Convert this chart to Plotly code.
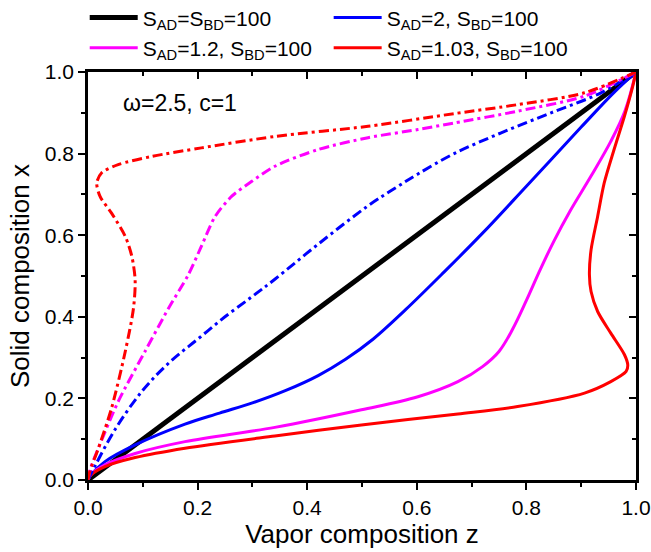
import plotly.graph_objects as go

# ---------------- data (vapor composition z, solid composition x) ----------------
ideal_z = [0.0, 1.0]
ideal_x = [0.0, 1.0]

s2_solid_z = [0.0, 0.005, 0.031, 0.086, 0.177, 0.240, 0.300, 0.360, 0.420, 0.470, 0.520, 0.580, 0.650, 0.720, 0.800, 0.900, 0.960, 1.0]
s2_solid_x = [0.0, 0.012, 0.045, 0.086, 0.137, 0.164, 0.189, 0.219, 0.256, 0.296, 0.345, 0.418, 0.510, 0.605, 0.720, 0.865, 0.950, 1.0]

s2_dd_z = [0.0, 0.013, 0.050, 0.100, 0.150, 0.200, 0.250, 0.300, 0.341, 0.420, 0.511, 0.560, 0.602, 0.668, 0.754, 0.845, 0.936, 1.0]
s2_dd_x = [0.0, 0.035, 0.125, 0.220, 0.290, 0.345, 0.400, 0.450, 0.492, 0.578, 0.672, 0.715, 0.750, 0.800, 0.851, 0.900, 0.949, 1.0]

s12_solid_z = [0.0, 0.005, 0.031, 0.086, 0.177, 0.341, 0.499, 0.602, 0.675, 0.720, 0.750, 0.775, 0.800, 0.825, 0.850, 0.880, 0.918, 0.954, 0.980, 1.0]
s12_solid_x = [0.0, 0.013, 0.037, 0.065, 0.094, 0.129, 0.172, 0.204, 0.241, 0.278, 0.315, 0.370, 0.440, 0.515, 0.585, 0.660, 0.745, 0.830, 0.905, 1.0]

s12_dd_z = [0.0, 0.005, 0.019, 0.055, 0.104, 0.147, 0.183, 0.207, 0.232, 0.262, 0.299, 0.341, 0.420, 0.511, 0.602, 0.668, 0.784, 0.906, 1.0]
s12_dd_x = [0.0, 0.030, 0.078, 0.192, 0.315, 0.421, 0.503, 0.573, 0.646, 0.695, 0.732, 0.769, 0.810, 0.839, 0.859, 0.875, 0.904, 0.941, 1.0]

s103_solid_z = [0.0, 0.005, 0.031, 0.086, 0.177, 0.341, 0.499, 0.675, 0.784, 0.906, 0.954, 0.982, 0.985, 0.979, 0.954, 0.930, 0.918, 0.915, 0.918, 0.930, 0.942, 0.960, 0.979, 0.994, 1.0]
s103_solid_x = [0.0, 0.012, 0.033, 0.055, 0.078, 0.108, 0.135, 0.162, 0.180, 0.213, 0.241, 0.266, 0.282, 0.307, 0.360, 0.413, 0.462, 0.503, 0.564, 0.646, 0.728, 0.810, 0.892, 0.965, 1.0]

s103_dd_z = [0.0, 0.003, 0.019, 0.043, 0.068, 0.083, 0.086, 0.080, 0.068, 0.043, 0.022, 0.016, 0.025, 0.055, 0.116, 0.207, 0.341, 0.511, 0.668, 0.784, 0.906, 1.0]
s103_dd_x = [0.0, 0.020, 0.078, 0.176, 0.315, 0.421, 0.490, 0.548, 0.597, 0.654, 0.695, 0.728, 0.753, 0.773, 0.793, 0.814, 0.842, 0.867, 0.898, 0.920, 0.949, 1.0]

tick_vals = [0.0, 0.2, 0.4, 0.6, 0.8, 1.0]

FONT = "Arial, Liberation Sans, sans-serif"
DASHDOT = "10px,4px,3px,4px"

fig = go.Figure()

def add(z, x, color, width, dash, name=None, legend=False, smooth=0.8):
    fig.add_trace(go.Scatter(
        x=z, y=x, mode="lines", name=name, showlegend=legend,
        line=dict(color=color, width=width, dash=dash, shape="spline", smoothing=smooth),
        hoverinfo="skip"))

add(ideal_z, ideal_x, "#000000", 5, "solid", "S<sub>AD</sub>=S<sub>BD</sub>=100", True)
add(s2_solid_z, s2_solid_x, "#0000FF", 3, "solid", "S<sub>AD</sub>=2, S<sub>BD</sub>=100", True, 1.0)
add(s12_solid_z, s12_solid_x, "#FF00FF", 3, "solid", "S<sub>AD</sub>=1.2, S<sub>BD</sub>=100", True, 1.0)
add(s103_solid_z, s103_solid_x, "#FF0000", 3, "solid", "S<sub>AD</sub>=1.03, S<sub>BD</sub>=100", True)
add(s2_dd_z, s2_dd_x, "#0000FF", 3, DASHDOT, smooth=1.0)
add(s12_dd_z, s12_dd_x, "#FF00FF", 3, DASHDOT)
add(s103_dd_z, s103_dd_x, "#FF0000", 3, DASHDOT)

# dummy trace to activate the mirrored top/right axes
fig.add_trace(go.Scatter(x=[None], y=[None], xaxis="x2", yaxis="y2", showlegend=False, hoverinfo="skip"))

axis_common = dict(range=[0, 1], tickvals=tick_vals, tickformat=".1f", showgrid=False, zeroline=False,
                   showline=True, linecolor="black", linewidth=2.5, ticklen=7, tickwidth=2,
                   tickcolor="black", tickfont=dict(family=FONT, size=21, color="black"))

fig.update_layout(
    width=651, height=552,
    margin=dict(l=88, r=15, t=72, b=72, autoexpand=False),
    paper_bgcolor="white", plot_bgcolor="white",
    font=dict(family=FONT, color="black"),
    xaxis=dict(**axis_common, ticks="outside",
               minor=dict(ticks="outside", dtick=0.1, ticklen=4, tickwidth=2, tickcolor="black"),
               title=dict(text="Vapor composition z", font=dict(family=FONT, size=26), standoff=6)),
    yaxis=dict(**axis_common, ticks="outside",
               minor=dict(ticks="outside", dtick=0.1, ticklen=4, tickwidth=2, tickcolor="black"),
               title=dict(text="Solid composition x", font=dict(family=FONT, size=26), standoff=8)),
    xaxis2=dict(range=[0, 1], overlaying="x", side="top", anchor="y", showgrid=False, zeroline=False,
                showline=True, linecolor="black", linewidth=2.5, ticks="inside", tickvals=tick_vals,
                ticklen=7, tickwidth=2, tickcolor="black", showticklabels=False,
                minor=dict(ticks="inside", dtick=0.1, ticklen=4, tickwidth=2, tickcolor="black")),
    yaxis2=dict(range=[0, 1], overlaying="y", side="right", anchor="x", showgrid=False, zeroline=False,
                showline=True, linecolor="black", linewidth=2.5, ticks="inside", tickvals=tick_vals,
                ticklen=7, tickwidth=2, tickcolor="black", showticklabels=False,
                minor=dict(ticks="inside", dtick=0.1, ticklen=4, tickwidth=2, tickcolor="black")),
    legend=dict(orientation="h", x=-0.006, xanchor="left", y=1.183, yanchor="top", yref="paper",
                itemwidth=48,
                font=dict(family=FONT, size=21), bgcolor="rgba(0,0,0,0)", tracegroupgap=0),
    annotations=[dict(text="\u03c9=2.5, c=1", x=0.06, y=0.925, xref="x", yref="y",
                      xanchor="left", yanchor="middle", showarrow=False,
                      font=dict(family=FONT, size=23, color="black"))],
)

fig.write_html("out.html")
